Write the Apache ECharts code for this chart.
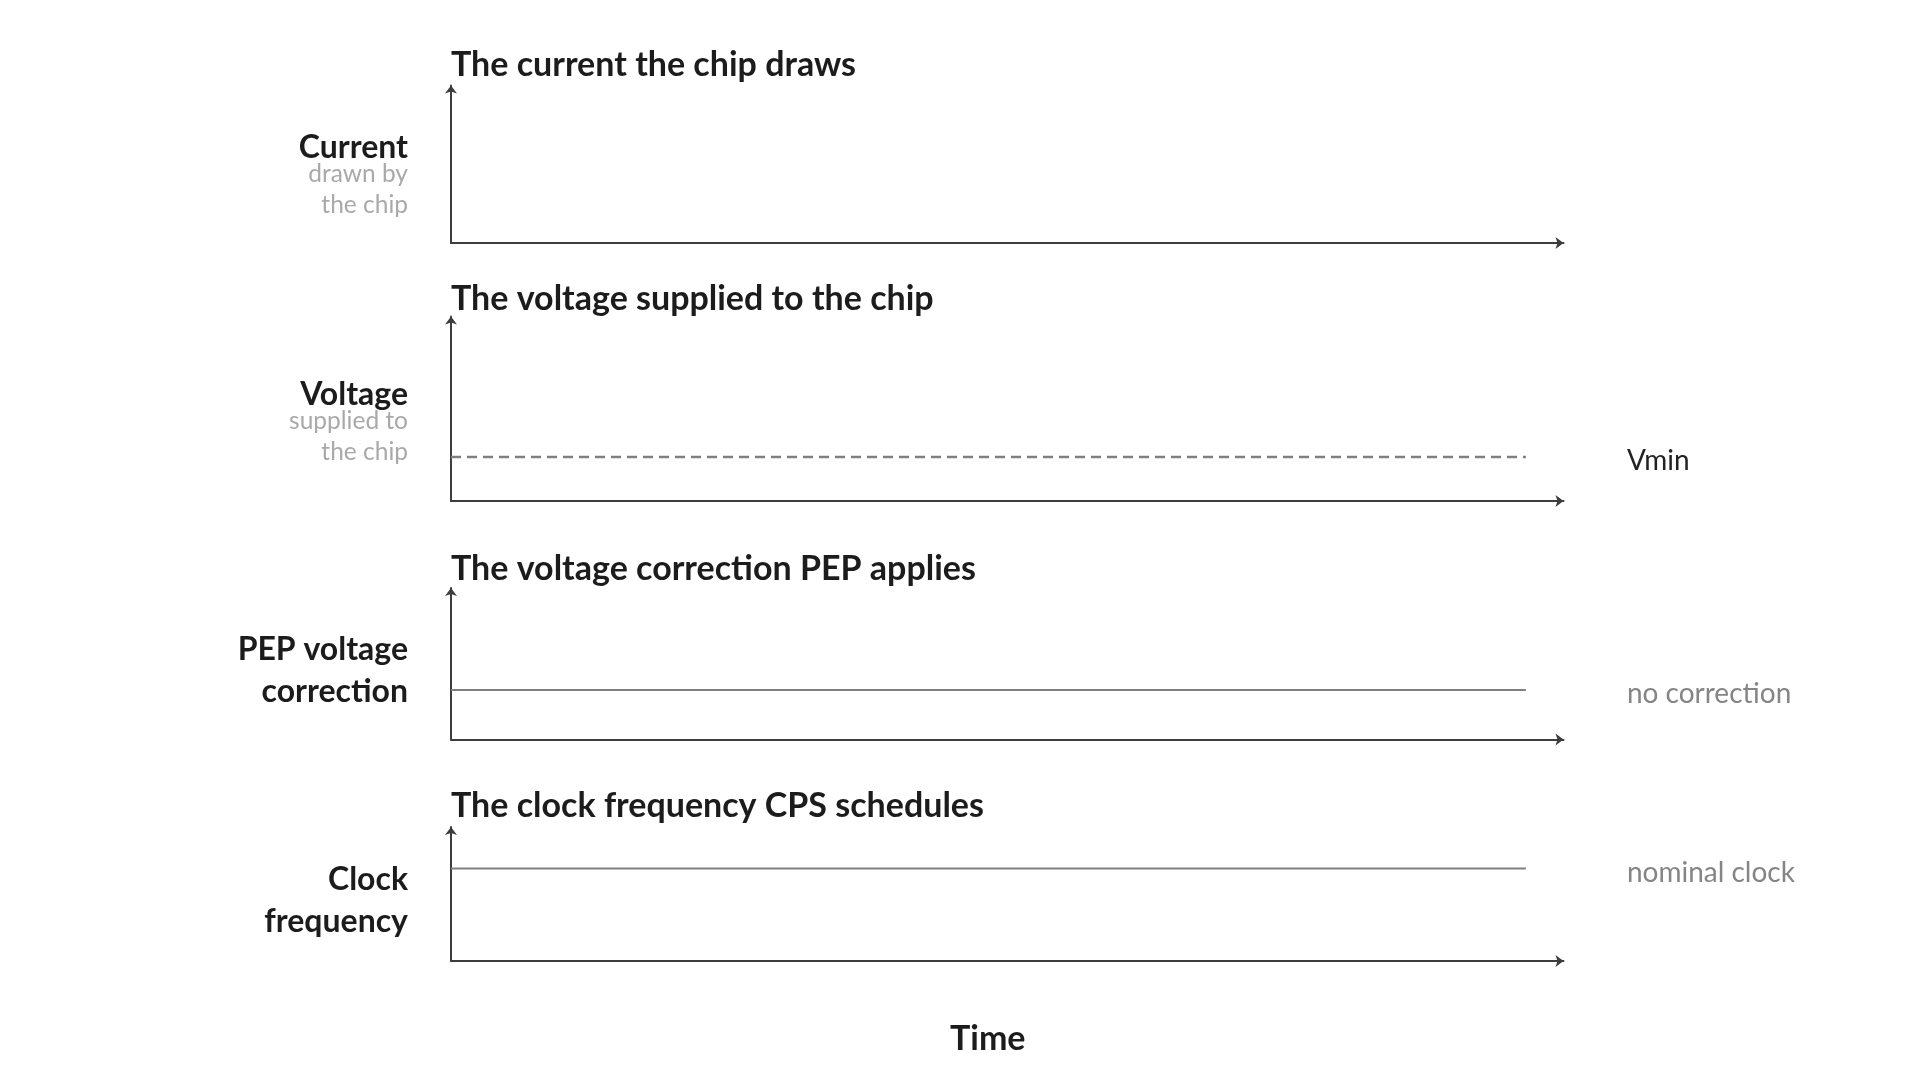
<!DOCTYPE html>
<html>
  <head>
    <meta charset="utf-8" />
    <script src="https://cdn.jsdelivr.net/npm/echarts@6.0.0/dist/echarts.min.js"></script>
    <style>
      html, body { margin: 0; padding: 0; background: #fff; }
    </style>
  </head>
  <body>
    <div id="main" style="width: 1920px;height:1080px;"></div>
    <script type="text/javascript">
      var myChart = echarts.init(document.getElementById('main'));

      // panel texts
      const panelTitles = [
        'The current the chip draws',
        'The voltage supplied to the chip',
        'The voltage correction PEP applies',
        'The clock frequency CPS schedules'
      ];
      const axisNames = [
        '{h|Current}\n{s|drawn by}\n{s|the chip}',
        '{h|Voltage}\n{s|supplied to}\n{s|the chip}',
        '{h2|PEP voltage}\n{h2|correction}',
        '{h2|Clock}\n{h2|frequency}'
      ];
      const timeLabel = 'Time';

      // flat reference levels (time 0..100, axes 0..1)
      const timePoints = [0, 100];
      const vminLevel = [0.238, 0.238];
      const correctionLevel = [0.327, 0.327];
      const clockLevel = [0.69, 0.69];
      const lineLabels = ['Vmin', 'no correction', 'nominal clock'];

      const font = 'Lato';
      const axisColor = '#3d3d3d';

      // grid boxes, top / height per panel
      const gridTops = [85.5, 316.5, 588, 827];
      const gridHeights = [157.5, 184.5, 151.5, 134];
      const titleTops = [48.3, 282.2, 551.6, 789.1];
      const namePads = [29.5, 34.5, 14, 13.5];

      function toPairs(ys) {
        return timePoints.map((t, i) => [t, ys[i]]);
      }

      const axisLine = {
        show: true,
        symbol: ['none', 'arrow'],
        symbolSize: [9, 8],
        lineStyle: { color: axisColor, width: 2 }
      };

      const grids = gridTops.map((top, i) => ({
        left: 451,
        right: 356.5,
        top: top,
        height: gridHeights[i],
        containLabel: false,
        outerBoundsMode: 'none'
      }));

      const xAxes = gridTops.map((t, i) => ({
        type: 'value',
        gridIndex: i,
        min: 0,
        max: 103.5,
        axisLine: axisLine,
        axisTick: { show: false },
        axisLabel: { show: false },
        splitLine: { show: false }
      }));

      const yAxes = gridTops.map((t, i) => ({
        type: 'value',
        gridIndex: i,
        min: 0,
        max: 1,
        name: axisNames[i],
        nameLocation: 'middle',
        nameRotate: 0,
        nameGap: 43,
        nameMoveOverlap: false,
        nameTextStyle: {
          align: 'right',
          verticalAlign: 'middle',
          padding: [namePads[i], 0, 0, 0],
          rich: {
            h: { fontFamily: font, fontSize: 32, fontWeight: 'bold', color: '#1c1c1c', lineHeight: 22, align: 'right' },
            h2: { fontFamily: font, fontSize: 32, fontWeight: 'bold', color: '#1c1c1c', lineHeight: 42, align: 'right' },
            s: { fontFamily: font, fontSize: 24.5, color: '#a9a9a9', lineHeight: 31, align: 'right' }
          }
        },
        axisLine: axisLine,
        axisTick: { show: false },
        axisLabel: { show: false },
        splitLine: { show: false }
      }));

      const titles = panelTitles.map((txt, i) => ({
        text: txt,
        left: 451,
        top: titleTops[i],
        padding: 0,
        textStyle: { fontFamily: font, fontSize: 34, fontWeight: 'bold', color: '#1c1c1c' }
      }));
      titles.push({
        text: timeLabel,
        left: 950,
        top: 1022,
        padding: 0,
        textStyle: { fontFamily: font, fontSize: 34, fontWeight: 'bold', color: '#1c1c1c' }
      });

      function levelSeries(idx, ys, label, dashed, labelColor) {
        return {
          type: 'line',
          xAxisIndex: idx,
          yAxisIndex: idx,
          data: toPairs(ys),
          showSymbol: false,
          symbol: 'none',
          lineStyle: {
            color: '#7f7f7f',
            width: dashed ? 2.5 : 2,
            type: dashed ? [10, 6] : 'solid'
          },
          endLabel: {
            show: true,
            formatter: label,
            distance: 101,
            offset: [0, 4],
            fontFamily: font,
            fontSize: 28,
            color: labelColor
          },
          silent: true
        };
      }

      option = {
        animation: false,
        backgroundColor: '#ffffff',
        title: titles,
        grid: grids,
        xAxis: xAxes,
        yAxis: yAxes,
        series: [
          levelSeries(1, vminLevel, lineLabels[0], true, '#222222'),
          levelSeries(2, correctionLevel, lineLabels[1], false, '#858585'),
          levelSeries(3, clockLevel, lineLabels[2], false, '#858585')
        ]
      };

      myChart.setOption(option);
    </script>
  </body>
</html>
